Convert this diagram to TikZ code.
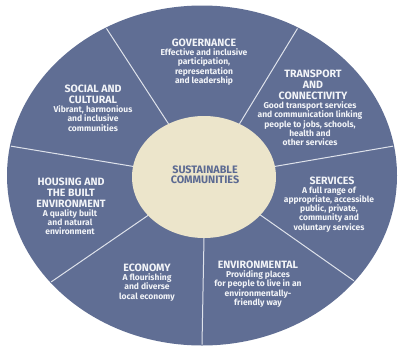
\documentclass[tikz,border=0pt]{standalone}
\usepackage{fontspec}
\setmainfont{Fira Sans}
\usepackage{tikz}
\usetikzlibrary{positioning, calc}
\definecolor{ringblue}{RGB}{96, 110, 148}
\definecolor{hubcream}{RGB}{236, 229, 203}
\definecolor{hubtext}{RGB}{92, 106, 146}
\definecolor{dividergray}{RGB}{222, 226, 235}
\definecolor{labelwhite}{RGB}{242, 244, 248}

\begin{document}
\begin{tikzpicture}[
        x=1pt, y=-1pt,
        divider/.style={draw=dividergray, line width=1pt},
        segtitle/.style={font=\fontsize{10.6}{11}\selectfont\bfseries, text=labelwhite, align=center, inner sep=0pt},
        segbody/.style={font=\fontsize{8.5}{9.2}\selectfont\bfseries, text=labelwhite, align=center, inner sep=0pt}
    ]
    \useasboundingbox (0,0) rectangle (399,349);

    % Outer ring
    \coordinate (ringc) at (202,175.5);
    \coordinate (hubc) at (204,177);
    \fill[ringblue] (ringc) ellipse [x radius=195pt, y radius=170pt];

    % Dividers between the seven themes
    \foreach \ang [count=\k] in {119.5, 60.5, 10, -38.5, -90, -141, 170} {
        \coordinate (in\k) at ($(hubc)+(\ang:72pt and 61pt)$);
        \coordinate (out\k) at ($(ringc)+(\ang:194pt and 169pt)$);
        \draw[divider] (in\k) -- (out\k);
    }

    % Hub
    \fill[hubcream] (hubc) ellipse [x radius=72pt, y radius=61pt];
    \node[font=\fontsize{10.8}{10.5}\selectfont\bfseries, text=hubtext, align=center, inner sep=0pt] (hub) at (205,175) {SUSTAINABLE\\COMMUNITIES};

    % Governance
    \node[segtitle] (govtitle) at (204,43) {GOVERNANCE};
    \node[segbody, below=1.5pt of govtitle] (govbody) {Effective and inclusive\\participation,\\representation\\and leadership};

    % Transport and connectivity
    \node[segtitle] (transtitle) at (313,85) {TRANSPORT\\AND\\CONNECTIVITY};
    \node[segbody, below=1.5pt of transtitle, xshift=-3pt] (transbody) {Good transport services\\and communication linking\\people to jobs, schools,\\health and\\other services};

    % Social and cultural
    \node[segtitle] (socialtitle) at (93,94.5) {SOCIAL AND\\CULTURAL};
    \node[segbody, below=1.5pt of socialtitle] (socialbody) {Vibrant, harmonious\\and inclusive\\communities};

    % Housing and the built environment
    \node[segtitle] (housetitle) at (71,192.5) {HOUSING AND\\THE BUILT\\ENVIRONMENT};
    \node[segbody, below=1.5pt of housetitle, xshift=-1pt] (housebody) {A quality built\\and natural\\environment};

    % Services
    \node[segtitle] (servtitle) at (332,181) {SERVICES};
    \node[segbody, below=1.5pt of servtitle, xshift=-3pt] (servbody) {A full range of\\appropriate, accessible\\public, private,\\community and\\voluntary services};

    % Economy
    \node[segtitle] (econtitle) at (147,268) {ECONOMY};
    \node[segbody, below=1.5pt of econtitle] (econbody) {A flourishing\\and diverse\\local economy};

    % Environmental
    \node[segtitle] (envtitle) at (258,265) {ENVIRONMENTAL};
    \node[segbody, below=1.5pt of envtitle] (envbody) {Providing places\\for people to live in an\\environmentally-\\friendly way};
\end{tikzpicture}
\end{document}
